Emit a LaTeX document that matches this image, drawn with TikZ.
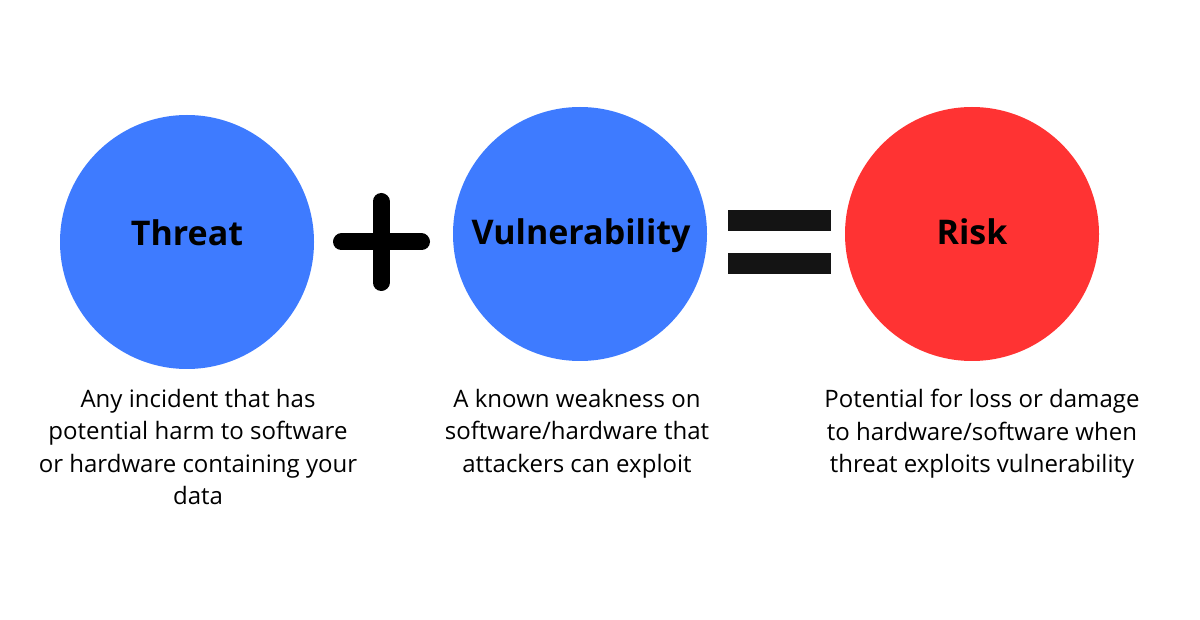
\documentclass[tikz,border=0pt]{standalone}
\usepackage{fontspec}
\setmainfont{Open Sans}
\definecolor{circblue}{HTML}{3E7BFF}
\definecolor{circred}{HTML}{FF3333}
\definecolor{symblack}{HTML}{141414}
\begin{document}
\begin{tikzpicture}[x=1pt,y=-1pt,
  circ/.style={circle,inner sep=0pt,minimum size=254pt},
  title/.style={font=\fontsize{34}{40}\selectfont\bfseries,anchor=base,inner sep=0pt},
  desc/.style={font=\fontsize{24}{32.5}\selectfont,align=center,anchor=north,inner sep=0pt},
  opbar/.style={line width=17pt,line cap=round,draw=black}]
\useasboundingbox[fill=white] (0,0) rectangle (1200,620);
\node[circ,fill=circblue] (threat) at (187,242) {};
\node[circ,fill=circblue] (vuln) at (580,234) {};
\node[circ,fill=circred] (risk) at (972,234) {};
\node[title] (threatt) at (187,246) {Threat};
\node[title] (vulnt) at (581,245) {Vulnerability};
\node[title] (riskt) at (972,245) {Risk};
\coordinate (pl) at (341.5,242);
\coordinate (pr) at (421.5,242);
\coordinate (pt) at (381,201.5);
\coordinate (pb) at (381,282.5);
\draw[opbar] (pl) -- (pr);
\draw[opbar] (pt) -- (pb);
\fill[symblack] (728,210) rectangle (831,231);
\fill[symblack] (728,253) rectangle (831,274);
\node[desc] (threatd) at (198,389) {Any incident that has\\potential harm to software\\or hardware containing your\\data};
\node[desc] (vulnd) at (577,389) {A known weakness on\\software/hardware that\\attackers can exploit};
\node[desc] (riskd) at (982,389) {Potential for loss or damage\\to hardware/software when\\threat exploits vulnerability};
\end{tikzpicture}
\end{document}
